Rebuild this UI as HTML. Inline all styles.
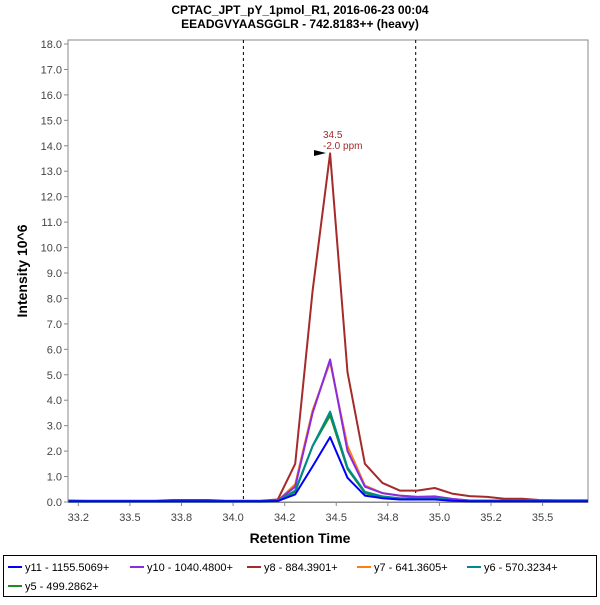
<!DOCTYPE html>
<html><head><meta charset="utf-8"><style>
body{margin:0;background:#fff;font-family:"Liberation Sans",sans-serif;}
svg text{font-family:"Liberation Sans",sans-serif;}
</style></head><body>
<svg id="chart" width="600" height="600" xmlns="http://www.w3.org/2000/svg">
<text x="300" y="14" text-anchor="middle" font-size="12" font-weight="bold">CPTAC_JPT_pY_1pmol_R1, 2016-06-23 00:04</text>
<text x="300" y="28" text-anchor="middle" font-size="12" font-weight="bold">EEADGVYAASGGLR - 742.8183++ (heavy)</text>
<rect x="68" y="40" width="520" height="462" fill="#fff" stroke="#888"/>
<g id="axes"></g>
<g id="series"></g>
<text x="300" y="543" text-anchor="middle" font-size="14" font-weight="bold">Retention Time</text>
<text transform="translate(27,271) rotate(-90)" text-anchor="middle" font-size="14" font-weight="bold">Intensity 10^6</text>
<g>
<text x="323" y="138" font-size="10" fill="#a52a2a">34.5</text>
<text x="323" y="149" font-size="10" fill="#a52a2a">-2.0 ppm</text>
<polygon points="314,150 326,153 314,156" fill="#000"/>
</g>
<rect x="3.5" y="555.5" width="593" height="41" fill="#fff" stroke="#000"/>
<g id="legend"></g>
</svg>
<script>
const times=[33.2025,33.287,33.3715,33.456,33.5405,33.625,33.7095,33.794,33.8785,33.963,34.0475,34.132,34.2165,34.301,34.3855,34.47,34.5545,34.639,34.7235,34.808,34.8925,34.977,35.0615,35.146,35.2305,35.315,35.3995,35.484,35.5685,35.653,35.7375];
const y11=[0.03,0.03,0.03,0.03,0.03,0.03,0.03,0.03,0.03,0.03,0.03,0.03,0.04,0.3,1.4,2.55,0.95,0.25,0.15,0.1,0.1,0.1,0.05,0.03,0.03,0.03,0.03,0.03,0.03,0.03,0.03];
const y10=[0.04,0.04,0.04,0.04,0.04,0.04,0.04,0.04,0.04,0.04,0.04,0.04,0.05,0.6,3.5,5.6,2.0,0.6,0.35,0.25,0.2,0.22,0.12,0.06,0.06,0.06,0.06,0.05,0.05,0.05,0.05];
const y8=[0.06,0.05,0.05,0.05,0.05,0.05,0.08,0.08,0.08,0.05,0.05,0.05,0.1,1.5,8.3,13.7,5.1,1.5,0.75,0.45,0.45,0.55,0.33,0.23,0.2,0.13,0.13,0.08,0.07,0.07,0.07];
const y7=[0.04,0.04,0.04,0.04,0.04,0.04,0.04,0.04,0.04,0.04,0.04,0.04,0.05,0.7,3.6,5.5,2.2,0.65,0.35,0.25,0.2,0.2,0.12,0.06,0.06,0.06,0.05,0.05,0.05,0.05,0.05];
const y6=[0.03,0.03,0.03,0.03,0.03,0.03,0.03,0.03,0.03,0.03,0.03,0.03,0.04,0.45,2.2,3.55,1.35,0.4,0.22,0.15,0.15,0.15,0.08,0.04,0.04,0.04,0.04,0.04,0.04,0.04,0.04];
const y5=[0.03,0.03,0.03,0.03,0.03,0.03,0.03,0.03,0.03,0.03,0.03,0.03,0.04,0.4,2.2,3.4,1.3,0.35,0.2,0.13,0.13,0.13,0.07,0.04,0.04,0.04,0.04,0.04,0.04,0.04,0.04];
const seriesNames=["y11 - 1155.5069+","y10 - 1040.4800+","y8 - 884.3901+","y7 - 641.3605+","y6 - 570.3234+","y5 - 499.2862+"];
const xTicks=[33.25,33.5,33.75,34.0,34.25,34.5,34.75,35.0,35.25,35.5];
const xTickLabels=["33.2","33.5","33.8","34.0","34.2","34.5","34.8","35.0","35.2","35.5"];
const yTicks=[0,1,2,3,4,5,6,7,8,9,10,11,12,13,14,15,16,17,18];
const boundaries=[34.05,34.885];
const colors=["#0000ff","#8a2be2","#a52a2a","#ff7f0e","#008b8b","#228b22"];
const NS="http://www.w3.org/2000/svg";
const X0=68,X1=588,Y0=502,YT=44;
const xmin=33.2,xmax=35.72,ymax=18;
function xs(v){return X0+(v-xmin)/(xmax-xmin)*(X1-X0);}
function ys(v){return Y0-v/ymax*(Y0-YT);}
function mk(tag,attrs,parent){const e=document.createElementNS(NS,tag);for(const k in attrs)e.setAttribute(k,attrs[k]);parent.appendChild(e);return e;}
const axes=document.getElementById('axes');
mk('line',{x1:X0,y1:40,x2:X0,y2:Y0,stroke:'#888'},axes);
mk('line',{x1:X0,y1:Y0+0.5,x2:X1,y2:Y0+0.5,stroke:'#888'},axes);
yTicks.forEach(v=>{
 const t=mk('line',{x1:X0-4,x2:X0,y1:ys(v),y2:ys(v),stroke:'#888'},axes);
 
 
 const l=mk('text',{x:X0-6,y:ys(v)+4,'text-anchor':'end','font-size':11,fill:'#444'},axes);
 l.textContent=v.toFixed(1);
 
 
});
xTicks.forEach((v,i)=>{
 const t=mk('line',{x1:xs(v),x2:xs(v),y1:Y0,y2:Y0+4,stroke:'#888'},axes);
 
 
 const l=mk('text',{x:xs(v),y:Y0+19,'text-anchor':'middle','font-size':11,fill:'#444'},axes);
 l.textContent=xTickLabels[i];
 
 
});
boundaries.forEach(v=>{
 const d=mk('line',{x1:xs(v),x2:xs(v),y1:40,y2:Y0,stroke:'#000','stroke-dasharray':'3,3'},axes);
 
 
});
const data=[y11,y10,y8,y7,y6,y5];
const order=[2,3,1,5,4,0];
const sg=document.getElementById('series');
order.forEach(i=>{
 const pts=times.map((t,j)=>xs(Math.min(Math.max(t,xmin),xmax)).toFixed(1)+','+ys(data[i][j]).toFixed(1)).join(' ');
 const p=mk('polyline',{points:pts,fill:'none',stroke:colors[i],'stroke-width':2,'stroke-linejoin':'round'},sg);
 
 
});
const lg=document.getElementById('legend');
const lpos=[[8,571],[130,571],[247,571],[357,571],[467,571],[8,590]];
seriesNames.forEach((n,i)=>{
 const [x,y]=lpos[i];
 const ln=mk('line',{x1:x,x2:x+14,y1:y-4,y2:y-4,stroke:colors[i],'stroke-width':2},lg);
 
 
 const t=mk('text',{x:x+17,y:y,'font-size':11},lg);
 t.textContent=n;
 
 
});
</script>
</body></html>
